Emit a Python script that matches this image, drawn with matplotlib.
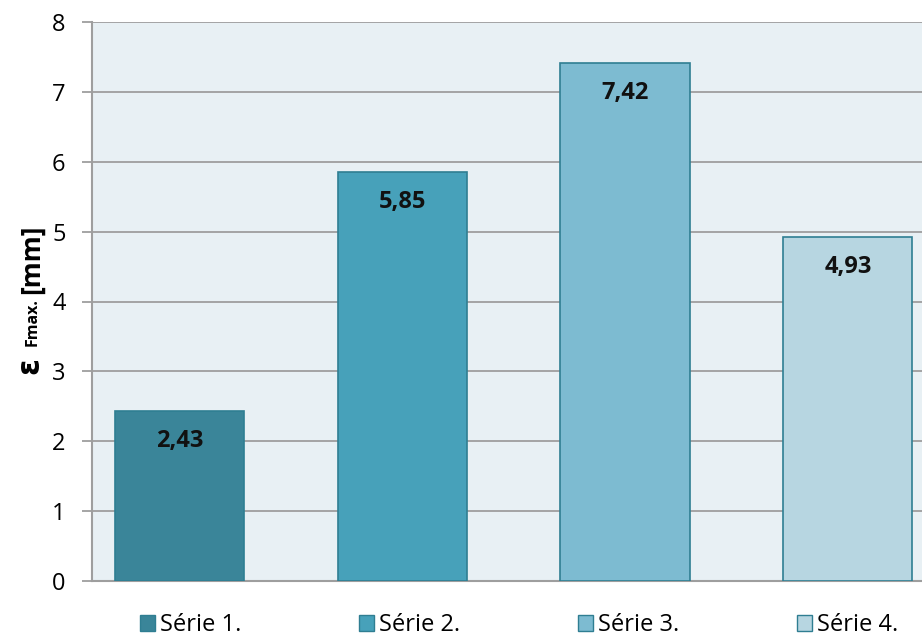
import matplotlib
matplotlib.use("Agg")
import matplotlib.pyplot as plt
from matplotlib.patches import Patch

plt.rcParams['font.family'] = ['Open Sans', 'DejaVu Sans']

series = ["Série 1.", "Série 2.", "Série 3.", "Série 4."]
values = [2.43, 5.85, 7.42, 4.93]
value_labels = ["2,43", "5,85", "7,42", "4,93"]
yticks = [0, 1, 2, 3, 4, 5, 6, 7, 8]

bar_colors = ["#3A8599", "#47A1BA", "#7DBBD1", "#B7D6E1"]
edge_color = "#2F7E92"
grid_color = "#9E9E9E"

fig = plt.figure(figsize=(9.22, 6.36), dpi=100)
ax = fig.add_axes([92 / 922, 1 - 581 / 636, 1 - 92 / 922, (581 - 22) / 636])
ax.set_facecolor("#E8F0F4")

x = list(range(len(values)))
bars = ax.bar(x, values, width=0.58, color=bar_colors, edgecolor=edge_color,
              linewidth=1.2, zorder=3)

for xi, v, lab in zip(x, values, value_labels):
    ax.text(xi, v - 0.43, lab, ha="center", va="center", fontsize=17,
            fontweight="bold", color="#111111", zorder=4)

ax.set_xlim(-0.393, 3.333)
ax.set_ylim(0, 8)
ax.set_yticks(yticks)
ax.set_yticklabels([str(t) for t in yticks], fontsize=17)
ax.set_xticks([])
ax.yaxis.grid(True, color=grid_color, linewidth=1.3, zorder=1)
ax.tick_params(axis="y", length=7, width=1.3, color=grid_color, pad=12)
for side in ["top", "right"]:
    ax.spines[side].set_visible(False)
for side in ["left", "bottom"]:
    ax.spines[side].set_color(grid_color)
    ax.spines[side].set_linewidth(1.5)

# y-axis title: large epsilon followed by the smaller subscript text
fig.text(30 / 922, 1 - 374 / 636, "ε", rotation=90, ha="center", va="bottom",
         fontsize=22, fontweight="bold", family=["DejaVu Sans"])
fig.text(33 / 922, 1 - 346 / 636, "Fmax.", rotation=90, ha="center", va="bottom",
         fontsize=11.5, fontweight="bold")
fig.text(31 / 922, 1 - 294 / 636, "[mm]", rotation=90, ha="center", va="bottom",
         fontsize=19, fontweight="bold")

handles = [Patch(facecolor=c, edgecolor=edge_color, linewidth=1.0) for c in bar_colors]
leg = fig.legend(handles, series, loc="center", bbox_to_anchor=(0.563, 1 - 625 / 636),
                 ncol=4, frameon=False, fontsize=17, handlelength=0.64,
                 handleheight=0.64, handletextpad=0.2, columnspacing=5.0)

fig.savefig("out.png", dpi=100)
